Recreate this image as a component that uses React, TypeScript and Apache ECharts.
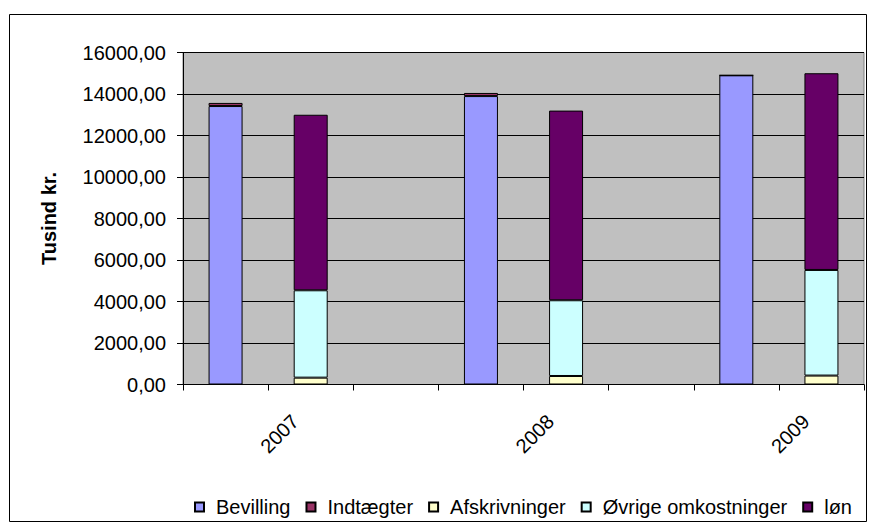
import React, { useEffect, useRef } from "react";
import * as echarts from "echarts";

// Data (thousand DKK)
const years = ["2007", "2008", "2009"];
const bevilling = [13420, 13900, 14900];
const indtaegter = [150, 150, 0];
const afskrivninger = [330, 410, 430];
const ovrige = [4210, 3650, 5090];
const lon = [8460, 9140, 9480];
const yTicks = { min: 0, max: 16000, interval: 2000 };

// Each year: [income slot, expense slot, gap]
const categories: string[] = [];
years.forEach((y, i) => {
  categories.push("", y);
  if (i < years.length - 1) categories.push("");
});
const incomeSlot = (arr: number[]) => {
  const out: (number | null)[] = [];
  arr.forEach((v, i) => {
    out.push(v, null);
    if (i < arr.length - 1) out.push(null);
  });
  return out;
};
const expenseSlot = (arr: number[]) => {
  const out: (number | null)[] = [];
  arr.forEach((v, i) => {
    out.push(null, v);
    if (i < arr.length - 1) out.push(null);
  });
  return out;
};

const FONT = "'Liberation Sans', Arial, sans-serif";

export default function App() {
  const ref = useRef<HTMLDivElement>(null);
  useEffect(() => {
    document.body.style.margin = "0";
    const chart = echarts.init(ref.current!, null, { renderer: "svg" });
    const mk = (name: string, color: string, data: (number | null)[]) => ({
      name,
      type: "bar",
      stack: "total",
      barWidth: 34,
      data,
      itemStyle: { color, borderColor: "#000", borderWidth: 1 },
    });
    chart.setOption({
      animation: false,
      backgroundColor: "#fff",
      textStyle: { fontFamily: FONT },
      graphic: [
        {
          type: "rect",
          shape: { x: 9.5, y: 14.5, width: 857, height: 507 },
          style: { fill: "none", stroke: "#000", lineWidth: 1 },
          silent: true,
        },
      ],
      grid: {
        left: 183,
        right: 10,
        top: 52.5,
        bottom: 140.5,
        show: true,
        backgroundColor: "#C0C0C0",
        borderColor: "#808080",
        borderWidth: 1,
      },
      legend: {
        left: 189,
        top: 492,
        itemWidth: 9,
        itemHeight: 9,
        itemGap: 15,
        icon: "rect",
        textStyle: { fontFamily: FONT, fontSize: 20, color: "#000", padding: [0, 0, 0, 7] },
        data: ["Bevilling", "Indtægter", "Afskrivninger", "Øvrige omkostninger", "løn"],
      },
      xAxis: {
        type: "category",
        data: categories,
        boundaryGap: true,
        axisLine: { show: true, lineStyle: { color: "#000", width: 1 } },
        axisTick: { show: true, length: 6, lineStyle: { color: "#000" }, alignWithLabel: false, interval: 0 },
        axisLabel: {
          interval: 0,
          rotate: 45,
          margin: 18,
          padding: [0, 22, 0, 0],
          fontSize: 20,
          color: "#000",
          fontFamily: FONT,
        },
      },
      yAxis: {
        type: "value",
        min: yTicks.min,
        max: yTicks.max,
        interval: yTicks.interval,
        name: "Tusind kr.",
        nameLocation: "middle",
        nameRotate: 90,
        nameGap: 124,
        nameTextStyle: { fontSize: 20, fontWeight: "bold", color: "#000", fontFamily: FONT },
        axisLine: { show: true, lineStyle: { color: "#000", width: 1 } },
        axisTick: { show: true, length: 6, lineStyle: { color: "#000" } },
        axisLabel: {
          margin: 17,
          fontSize: 20,
          color: "#000",
          fontFamily: FONT,
          formatter: (v: number) => v.toFixed(2).replace(".", ","),
        },
        splitLine: { show: true, lineStyle: { color: "#000", width: 1 } },
      },
      series: [
        mk("Bevilling", "#9999FF", incomeSlot(bevilling)),
        mk("Indtægter", "#993366", incomeSlot(indtaegter)),
        mk("Afskrivninger", "#FFFFCC", expenseSlot(afskrivninger)),
        mk("Øvrige omkostninger", "#CCFFFF", expenseSlot(ovrige)),
        mk("løn", "#660066", expenseSlot(lon)),
      ],
    });
    return () => chart.dispose();
  }, []);
  return <div ref={ref} style={{ width: 874, height: 525 }} />;
}
